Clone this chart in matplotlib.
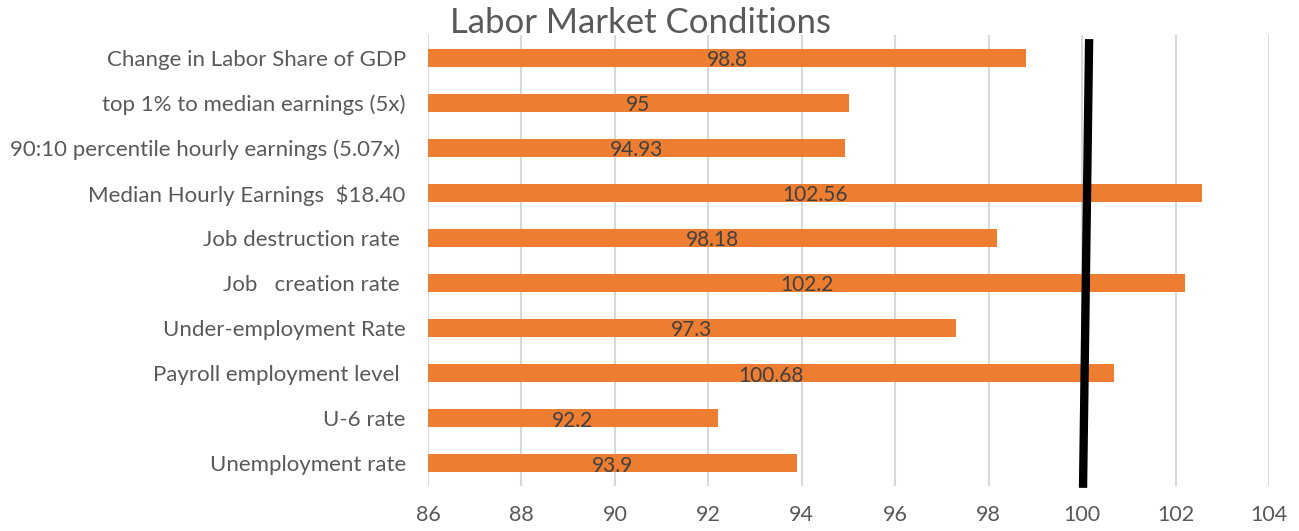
import matplotlib.pyplot as plt
import matplotlib.transforms as mtransforms

# data, bottom to top as drawn
categories = [
    'Unemployment rate',
    'U-6 rate',
    'Payroll employment level ',
    'Under-employment Rate',
    'Job   creation rate ',
    'Job destruction rate ',
    'Median Hourly Earnings  $18.40',
    '90:10 percentile hourly earnings (5.07x) ',
    'top 1% to median earnings (5x)',
    'Change in Labor Share of GDP',
]
values = [93.9, 92.2, 100.68, 97.3, 102.2, 98.18, 102.56, 94.93, 95, 98.8]
value_labels = ['93.9', '92.2', '100.68', '97.3', '102.2', '98.18', '102.56', '94.93', '95', '98.8']
x_ticks = [86, 88, 90, 92, 94, 96, 98, 100, 102, 104]
ref_line_x = [100.15, 100.02]   # hand-drawn marker, top -> bottom

plt.rcParams['font.family'] = ['Lato', 'DejaVu Sans']

fig = plt.figure(figsize=(12.99, 5.31), dpi=100)
ax = fig.add_axes([0.3295, 0.0847, 0.6474, 0.8493])

ypos = list(range(len(categories)))
ax.barh(ypos, values, height=0.4, color='#ED7D31', zorder=2)

for y, v, lab in zip(ypos, values, value_labels):
    ax.text((86 + v) / 2, y - 0.05, lab, ha='center', va='center',
            fontsize=15, color='#404040', zorder=3)

ax.set_xlim(86, 104)
ax.set_ylim(-0.5, len(categories) - 0.5)
ax.set_xticks(x_ticks)
ax.set_yticks(ypos)
ax.set_yticklabels(categories)
ax.tick_params(axis='y', length=0, pad=16, labelsize=16, labelcolor='#595959')
ax.tick_params(axis='x', length=0, pad=14, labelsize=15.5, labelcolor='#595959')
ax.grid(axis='x', color='#D9D9D9', linewidth=1.5, zorder=0)
ax.set_axisbelow(True)
for s in ax.spines.values():
    s.set_visible(False)

trans = mtransforms.blended_transform_factory(ax.transData, ax.transAxes)
ax.plot(ref_line_x, [0.991, -0.004], color='black', linewidth=6,
        solid_capstyle='butt', transform=trans, clip_on=False, zorder=4)

fig.text(0.493, 0.957, 'Labor Market Conditions', ha='center', va='center',
         fontsize=25, color='#595959')

plt.savefig('out.png', dpi=100)
